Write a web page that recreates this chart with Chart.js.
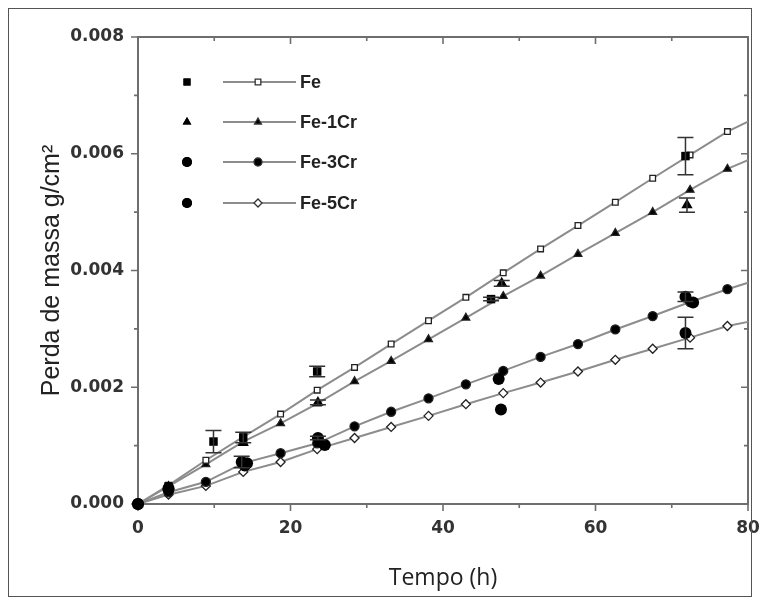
<!DOCTYPE html>
<html>
<head>
<meta charset="utf-8">
<script src="https://cdn.jsdelivr.net/npm/chart.js@4"></script>
<style>
  html, body { margin: 0; padding: 0; background: #fff; }
  #wrap { width: 760px; height: 605px; position: relative; }
</style>
</head>
<body>
<div id="wrap"><canvas id="chart"></canvas></div>
<script>
// model curves (line + marker)
const lineTimes = [0, 4.0, 8.9, 13.8, 18.7, 23.5, 28.4, 33.2, 38.1, 43.0, 47.9, 52.8, 57.7, 62.6, 67.5, 72.4, 77.3, 80];
const feLine    = [0, 0.00032, 0.00075, 0.00115, 0.00154, 0.00195, 0.00234, 0.00274, 0.00314, 0.00354, 0.00396, 0.00437, 0.00477, 0.00517, 0.00558, 0.00598, 0.00638, 0.00655];
const fe1Line   = [0, 0.00030, 0.00068, 0.00107, 0.00138, 0.00172, 0.00210, 0.00245, 0.00282, 0.00319, 0.00356, 0.00391, 0.00428, 0.00464, 0.00500, 0.00538, 0.00574, 0.00589];
const fe3Line   = [0, 0.00020, 0.00038, 0.00070, 0.00087, 0.00104, 0.00133, 0.00158, 0.00181, 0.00205, 0.00228, 0.00252, 0.00274, 0.00299, 0.00322, 0.00346, 0.00368, 0.00379];
const fe5Line   = [0, 0.00016, 0.00031, 0.00055, 0.00072, 0.00094, 0.00113, 0.00132, 0.00151, 0.00171, 0.00190, 0.00208, 0.00227, 0.00247, 0.00266, 0.00285, 0.00305, 0.00312];

// experimental points (filled black) with error bar half-widths (0 = none)
const feExpT   = [0, 4.0, 9.9, 13.8, 23.5, 46.3, 71.8];
const feExpV   = [0, 0.00030, 0.00107, 0.00114, 0.00227, 0.00351, 0.00596];
const feExpE   = [0, 0, 0.00019, 0.00009, 0.00009, 0.00003, 0.00032];
const fe1ExpT  = [0, 4.0, 13.8, 23.6, 47.7, 72.0];
const fe1ExpV  = [0, 0.00029, 0.00105, 0.00174, 0.00378, 0.00512];
const fe1ExpE  = [0, 0, 0, 0.00004, 0.00005, 0.00012];
const fe3ExpT  = [0, 4.0, 13.6, 14.3, 23.6, 47.3, 71.8, 72.8];
const fe3ExpV  = [0, 0.00027, 0.00072, 0.00070, 0.00113, 0.00214, 0.00355, 0.00345];
const fe3ExpE  = [0, 0, 0.00010, 0, 0.00003, 0, 0.00008, 0];
const fe5ExpT  = [0, 4.0, 14.0, 24.5, 47.6, 71.8];
const fe5ExpV  = [0, 0.00025, 0.00066, 0.00101, 0.00162, 0.00293];
const fe5ExpE  = [0, 0, 0, 0, 0, 0.00027];

const seriesNames = ['Fe', 'Fe-1Cr', 'Fe-3Cr', 'Fe-5Cr'];
const xTicks = [0, 20, 40, 60, 80];
const yTicks = [0, 0.002, 0.004, 0.006, 0.008];

const LINE_COL = '#8c8c8c';
const pts = (t, v) => t.map((x, i) => ({ x, y: v[i] }));
const lineRadius = r => lineTimes.map((t, i) => i === lineTimes.length - 1 ? 0 : r);

function lineSet(label, data, style, fill, r) {
  return {
    type: 'line', label, data: pts(lineTimes, data), showLine: true,
    borderColor: LINE_COL, borderWidth: 2, tension: 0,
    pointStyle: style, pointRadius: lineRadius(r), pointBorderWidth: 1.3,
    pointBackgroundColor: fill, pointBorderColor: '#222', clip: false, order: 2
  };
}
function expSet(label, t, v, e, style, r) {
  return {
    type: 'scatter', label, data: pts(t, v), showLine: false, errors: e,
    pointStyle: style, pointRadius: r, pointBorderWidth: 0,
    pointBackgroundColor: '#000', pointBorderColor: '#000', clip: false, order: 1
  };
}

const datasets = [
  lineSet('Fe', feLine, 'rect', '#fff', 4),
  lineSet('Fe-1Cr', fe1Line, 'triangle', '#000', 4.5),
  lineSet('Fe-3Cr', fe3Line, 'circle', '#000', 4.5),
  lineSet('Fe-5Cr', fe5Line, 'rectRot', '#fff', 4.5),
  expSet('Fe exp', feExpT, feExpV, feExpE, 'rect', 6),
  expSet('Fe-1Cr exp', fe1ExpT, fe1ExpV, fe1ExpE, 'triangle', 6.5),
  expSet('Fe-3Cr exp', fe3ExpT, fe3ExpV, fe3ExpE, 'circle', 6),
  expSet('Fe-5Cr exp', fe5ExpT, fe5ExpV, fe5ExpE, 'circle', 6)
];

const frame = {
  id: 'frame',
  beforeDatasetsDraw(chart) {
    const { ctx, chartArea: a, scales: { x, y } } = chart;
    ctx.save();
    // outer border of the picture
    ctx.strokeStyle = '#555'; ctx.lineWidth = 1;
    ctx.strokeRect(8.5, 8.5, 743, 588);
    // plot box
    ctx.strokeStyle = '#6e6e6e'; ctx.lineWidth = 2;
    ctx.strokeRect(a.left, a.top, a.right - a.left, a.bottom - a.top);
    ctx.lineWidth = 1.6;
    ctx.beginPath();
    for (let v = 0; v <= 80; v += 10) {
      const px = x.getPixelForValue(v), len = v % 20 === 0 ? 7 : 4;
      ctx.moveTo(px, a.bottom); ctx.lineTo(px, a.bottom + len);
      ctx.moveTo(px, a.top); ctx.lineTo(px, a.top + len);
    }
    for (let i = 0; i <= 8; i++) {
      const py = y.getPixelForValue(i * 0.001), len = i % 2 === 0 ? 7 : 4;
      ctx.moveTo(a.left, py); ctx.lineTo(a.left - len, py);
      ctx.moveTo(a.right, py); ctx.lineTo(a.right - len, py);
    }
    ctx.stroke();
    ctx.restore();
  },
  afterDatasetsDraw(chart) {
    const { ctx, scales: { x, y } } = chart;
    ctx.save();
    // error bars
    ctx.strokeStyle = '#333'; ctx.lineWidth = 1.5;
    chart.data.datasets.forEach(ds => {
      if (!ds.errors) return;
      ds.data.forEach((p, i) => {
        const e = ds.errors[i];
        if (!e) return;
        const px = x.getPixelForValue(p.x);
        const y1 = y.getPixelForValue(p.y + e), y2 = y.getPixelForValue(p.y - e);
        ctx.beginPath();
        ctx.moveTo(px, y1); ctx.lineTo(px, y2);
        ctx.moveTo(px - 8, y1); ctx.lineTo(px + 8, y1);
        ctx.moveTo(px - 8, y2); ctx.lineTo(px + 8, y2);
        ctx.stroke();
      });
    });
    // legend
    const rows = [82, 122, 162, 203];
    const expStyles = ['rect', 'triangle', 'circle', 'circle'];
    ctx.font = 'bold 18px "Liberation Sans", Arial, sans-serif';
    ctx.textBaseline = 'middle';
    rows.forEach((ry, i) => {
      const ln = chart.data.datasets[i];
      ctx.fillStyle = '#000';
      Chart.helpers.drawPoint(ctx, { pointStyle: expStyles[i], radius: 5, borderWidth: 0 }, 187, ry);
      ctx.fill();
      ctx.strokeStyle = LINE_COL; ctx.lineWidth = 2;
      ctx.beginPath(); ctx.moveTo(223, ry); ctx.lineTo(296, ry); ctx.stroke();
      ctx.fillStyle = ln.pointBackgroundColor; ctx.strokeStyle = '#333'; ctx.lineWidth = 1.3;
      Chart.helpers.drawPoint(ctx, { pointStyle: ln.pointStyle, radius: 4, borderWidth: 1.3 }, 258, ry);
      ctx.fillStyle = '#222';
      ctx.fillText(seriesNames[i], 300, ry + 1);
    });
    ctx.restore();
  }
};

new Chart(document.getElementById('chart'), {
  data: { datasets },
  options: {
    responsive: true, maintainAspectRatio: false, animation: false,
    layout: { padding: { left: 0, top: 37, right: 12, bottom: 0 } },
    plugins: { legend: { display: false }, tooltip: { enabled: false } },
    scales: {
      x: {
        type: 'linear', min: 0, max: 80,
        afterBuildTicks: s => { s.ticks = xTicks.map(v => ({ value: v })); },
        afterFit: s => { s.height = 101; s.paddingRight = 12; s.paddingLeft = 0; },
        grid: { display: false, drawTicks: false }, border: { display: false },
        ticks: { padding: 14, color: '#333', font: { family: '"DejaVu Sans"', size: 17, weight: 'bold' } },
        title: { display: true, text: 'Tempo (h)', color: '#222',
          font: { family: '"Open Sans", sans-serif', size: 23 }, padding: { top: 0, bottom: 13 } }
      },
      y: {
        type: 'linear', min: 0, max: 0.008,
        afterBuildTicks: s => { s.ticks = yTicks.map(v => ({ value: v })); },
        afterFit: s => { s.width = 138; },
        grid: { display: false, drawTicks: false }, border: { display: false },
        ticks: { padding: 14, color: '#333', callback: v => v.toFixed(3),
          font: { family: '"DejaVu Sans"', size: 17, weight: 'bold' } },
        title: { display: true, text: 'Perda de massa g/cm\u00b2', color: '#222',
          font: { family: '"Liberation Sans", Arial', size: 25 }, padding: { top: 37, bottom: 0 } }
      }
    }
  },
  plugins: [frame]
});
</script>
</body>
</html>
